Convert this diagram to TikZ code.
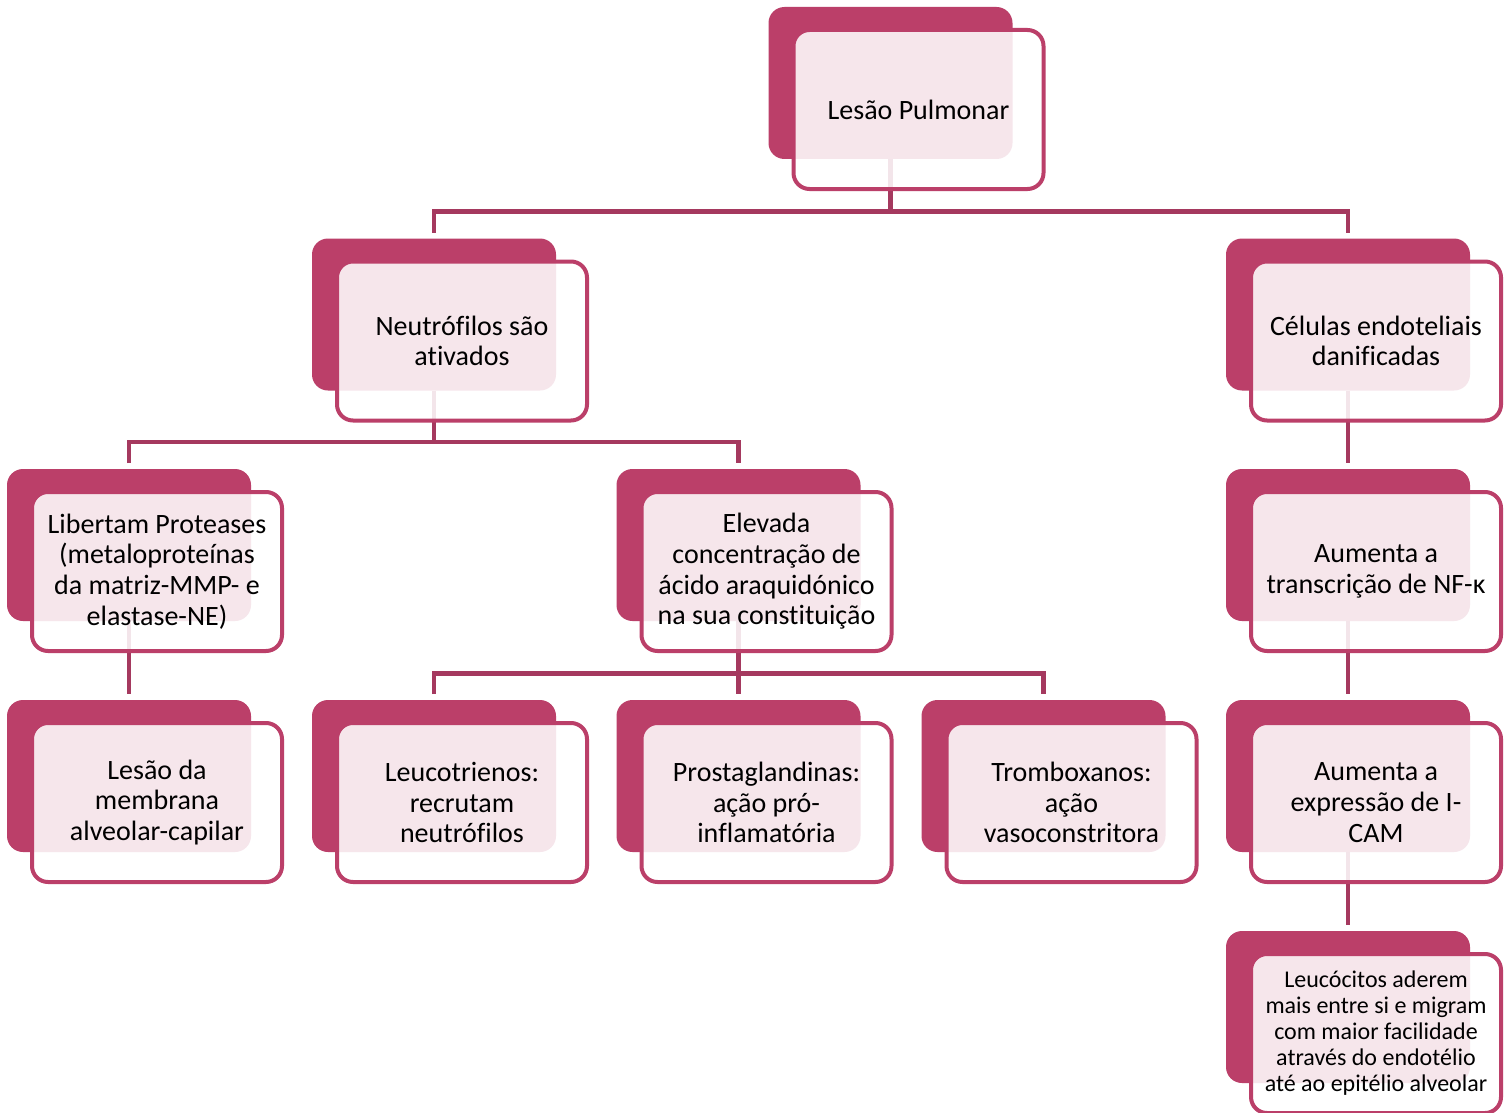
\documentclass[tikz,border=0pt]{standalone}
\usepackage{fontspec}
\setmainfont{Carlito}[Ligatures=NoCommon]
\usetikzlibrary{calc}
\definecolor{rosa}{HTML}{BB3F69}
\definecolor{conn}{HTML}{A5395F}
\begin{document}
\begin{tikzpicture}[x=1pt,y=-1pt,
 back/.style={rectangle, rounded corners=16pt, fill=rosa, minimum width=244pt, minimum height=152pt, inner sep=0pt, outer sep=0pt},
 front/.style={rectangle, rounded corners=16pt, draw=rosa, line width=4pt, fill=white, fill opacity=0.87, text opacity=1, minimum width=250pt, minimum height=159pt, align=center, inner sep=0pt, outer sep=0pt, font=\fontsize{28}{30.7}\selectfont, text=black},
 small/.style={font=\fontsize{24}{26}\selectfont},
 conn/.style={draw=conn, line width=4.5pt, line join=miter}]
\useasboundingbox[fill=white] (0,0) rectangle (1510,1113);
% back boxes
\node[back] (b0) at (890.5,83) {};
\node[back] (b1a) at (434,314.5) {};
\node[back] (b1b) at (1348,314.5) {};
\node[back] (b2a) at (129,545) {};
\node[back] (b2b) at (738.5,545) {};
\node[back] (b2c) at (1348,545) {};
\node[back] (b3a) at (129,776) {};
\node[back] (b3b) at (434,776) {};
\node[back] (b3c) at (738.5,776) {};
\node[back] (b3d) at (1043.5,776) {};
\node[back] (b3e) at (1348,776) {};
\node[back] (b4) at (1348,1007) {};
% bus levels
\coordinate (h0) at (0,211.5);
\coordinate (h1) at (0,442);
\coordinate (h2) at (0,673.5);
% connectors
\draw[conn] (b0.south) -- (b0.south |- h0);
\draw[conn] ([yshift=6pt]b1a.north) -- (b1a.north |- h0) -- (b1b.north |- h0) -- ([yshift=6pt]b1b.north);
\draw[conn] (b1a.south) -- (b1a.south |- h1);
\draw[conn] ([yshift=6pt]b2a.north) -- (b2a.north |- h1) -- (b2b.north |- h1) -- ([yshift=6pt]b2b.north);
\draw[conn] (b1b.south) -- ([yshift=6pt]b2c.north);
\draw[conn] (b2a.south) -- ([yshift=6pt]b3a.north);
\draw[conn] (b2b.south) -- ([yshift=6pt]b3c.north);
\draw[conn] ([yshift=6pt]b3b.north) -- (b3b.north |- h2) -- (b3d.north |- h2) -- ([yshift=6pt]b3d.north);
\draw[conn] (b2c.south) -- ([yshift=6pt]b3e.north);
\draw[conn] (b3e.south) -- ([yshift=6pt]b4.north);
% front boxes
\node[front] (f0) at ($(b0)+(28,26.5)$) {Lesão Pulmonar};
\node[front] (f1a) at ($(b1a)+(28,26.5)$) {Neutrófilos são\\ativados};
\node[front] (f1b) at ($(b1b)+(28,26.5)$) {Células endoteliais\\danificadas};
\node[front] (f2a) at ($(b2a)+(28,26.5)$) {Libertam Proteases\\(metaloproteínas\\da matriz-MMP- e\\elastase-NE)};
\node[front] (f2b) at ($(b2b)+(28,26.5)$) {Elevada\\concentração de\\ácido araquidónico\\na sua constituição};
\node[front] (f2c) at ($(b2c)+(28,26.5)$) {Aumenta a\\transcrição de NF-κ};
\node[front] (f3a) at ($(b3a)+(28,26.5)$) {Lesão da\\membrana\\alveolar-capilar};
\node[front] (f3b) at ($(b3b)+(28,26.5)$) {Leucotrienos:\\recrutam\\neutrófilos};
\node[front] (f3c) at ($(b3c)+(28,26.5)$) {Prostaglandinas:\\ação pró-\\inflamatória};
\node[front] (f3d) at ($(b3d)+(28,26.5)$) {Tromboxanos:\\ação\\vasoconstritora};
\node[front] (f3e) at ($(b3e)+(28,26.5)$) {Aumenta a\\expressão de I-\\CAM};
\node[front, small] (f4) at ($(b4)+(28,26.5)$) {Leucócitos aderem\\mais entre si e migram\\com maior facilidade\\através do endotélio\\até ao epitélio alveolar};
\end{tikzpicture}
\end{document}
